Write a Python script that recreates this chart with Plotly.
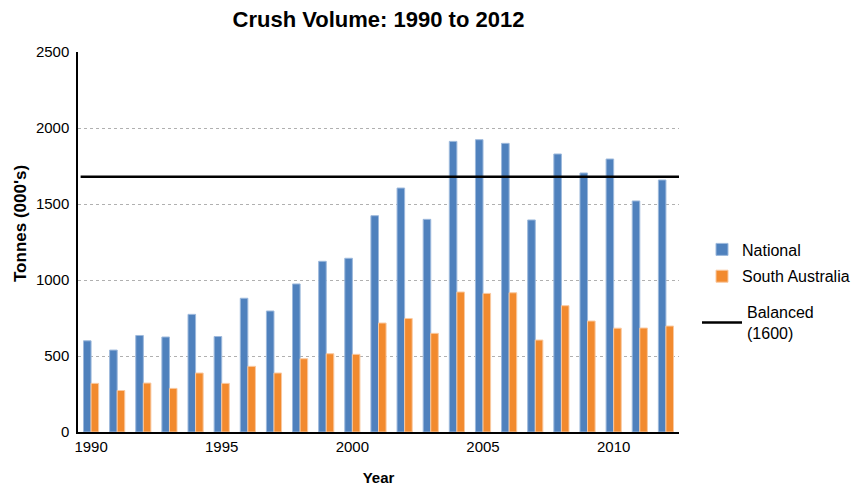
import plotly.graph_objects as go

years = list(range(1990, 2013))
national = [600, 539, 635, 625, 774, 628, 880, 796, 974, 1123, 1143, 1423, 1605, 1399,
            1912, 1923, 1899, 1395, 1829, 1704, 1796, 1520, 1658]
south_australia = [320, 273, 322, 287, 388, 320, 432, 388, 482, 515, 511, 717, 747, 649,
                   921, 912, 916, 605, 831, 730, 683, 684, 697]
balanced_level = 1680
balanced_x = [1989.6, 2012.5]
y_ticks = [0, 500, 1000, 1500, 2000, 2500]
x_ticks = [1990, 1995, 2000, 2005, 2010]

FONT = "Liberation Sans, Arial, sans-serif"

fig = go.Figure()
fig.add_trace(go.Bar(
    x=years, y=national, name="National",
    marker=dict(color="#4F81BD", line=dict(color="#9DB9DC", width=1)),
    legendgroup="nat", legend="legend",
))
fig.add_trace(go.Bar(
    x=years, y=south_australia, name="South Australia",
    marker=dict(color="#F28A2E", line=dict(color="#F9C9A0", width=1)),
    legendgroup="sa", legend="legend",
))
fig.add_trace(go.Scatter(
    x=balanced_x, y=[balanced_level, balanced_level], mode="lines",
    name="Balanced<br>(1600)", line=dict(color="black", width=2.5),
    legend="legend2",
))

# page body has an 8px margin, so the margins are shifted to place the plot area
fig.update_layout(
    width=859, height=487,
    margin=dict(l=70, r=188, t=44, b=63, autoexpand=False),
    paper_bgcolor="white", plot_bgcolor="white",
    font=dict(family=FONT, size=14, color="black"),
    title=dict(text="<b>Crush Volume: 1990 to 2012</b>", x=0.5, xref="paper",
               xanchor="center", y=1 - 11 / 487, yanchor="middle",
               font=dict(size=22, family=FONT)),
    barmode="group", bargap=0.42, bargroupgap=0,
    showlegend=True,
    legend=dict(xref="container", x=694 / 859, xanchor="left", y=0.525, yanchor="top",
                font=dict(size=16, family=FONT), tracegroupgap=3,
                bgcolor="rgba(0,0,0,0)"),
    legend2=dict(xref="container", x=689 / 859, xanchor="left", y=0.36, yanchor="top",
                 font=dict(size=16, family=FONT), itemwidth=40,
                 bgcolor="rgba(0,0,0,0)"),
    xaxis=dict(range=[1989.5, 2012.5], tickvals=x_ticks, ticks="",
               showgrid=False, showline=True, linecolor="black", linewidth=1.5,
               tickfont=dict(size=15), zeroline=False,
               title=dict(text="<b>Year</b>", font=dict(size=15), standoff=19)),
    yaxis=dict(range=[0, 2500], tickvals=y_ticks, ticks="",
               showgrid=True, gridcolor="#B0B0B0", griddash="dot", gridwidth=1,
               showline=True, linecolor="black", linewidth=1.5, zeroline=False,
               tickfont=dict(size=15), ticklabelstandoff=4),
    annotations=[dict(text="<b>Tonnes (000's)</b>", textangle=-90,
                      xref="paper", yref="paper", x=-58 / 601, y=(432 - 224) / 380,
                      xanchor="center", yanchor="middle", showarrow=False,
                      font=dict(size=17, family=FONT))],
)

fig.write_html("out.html")
